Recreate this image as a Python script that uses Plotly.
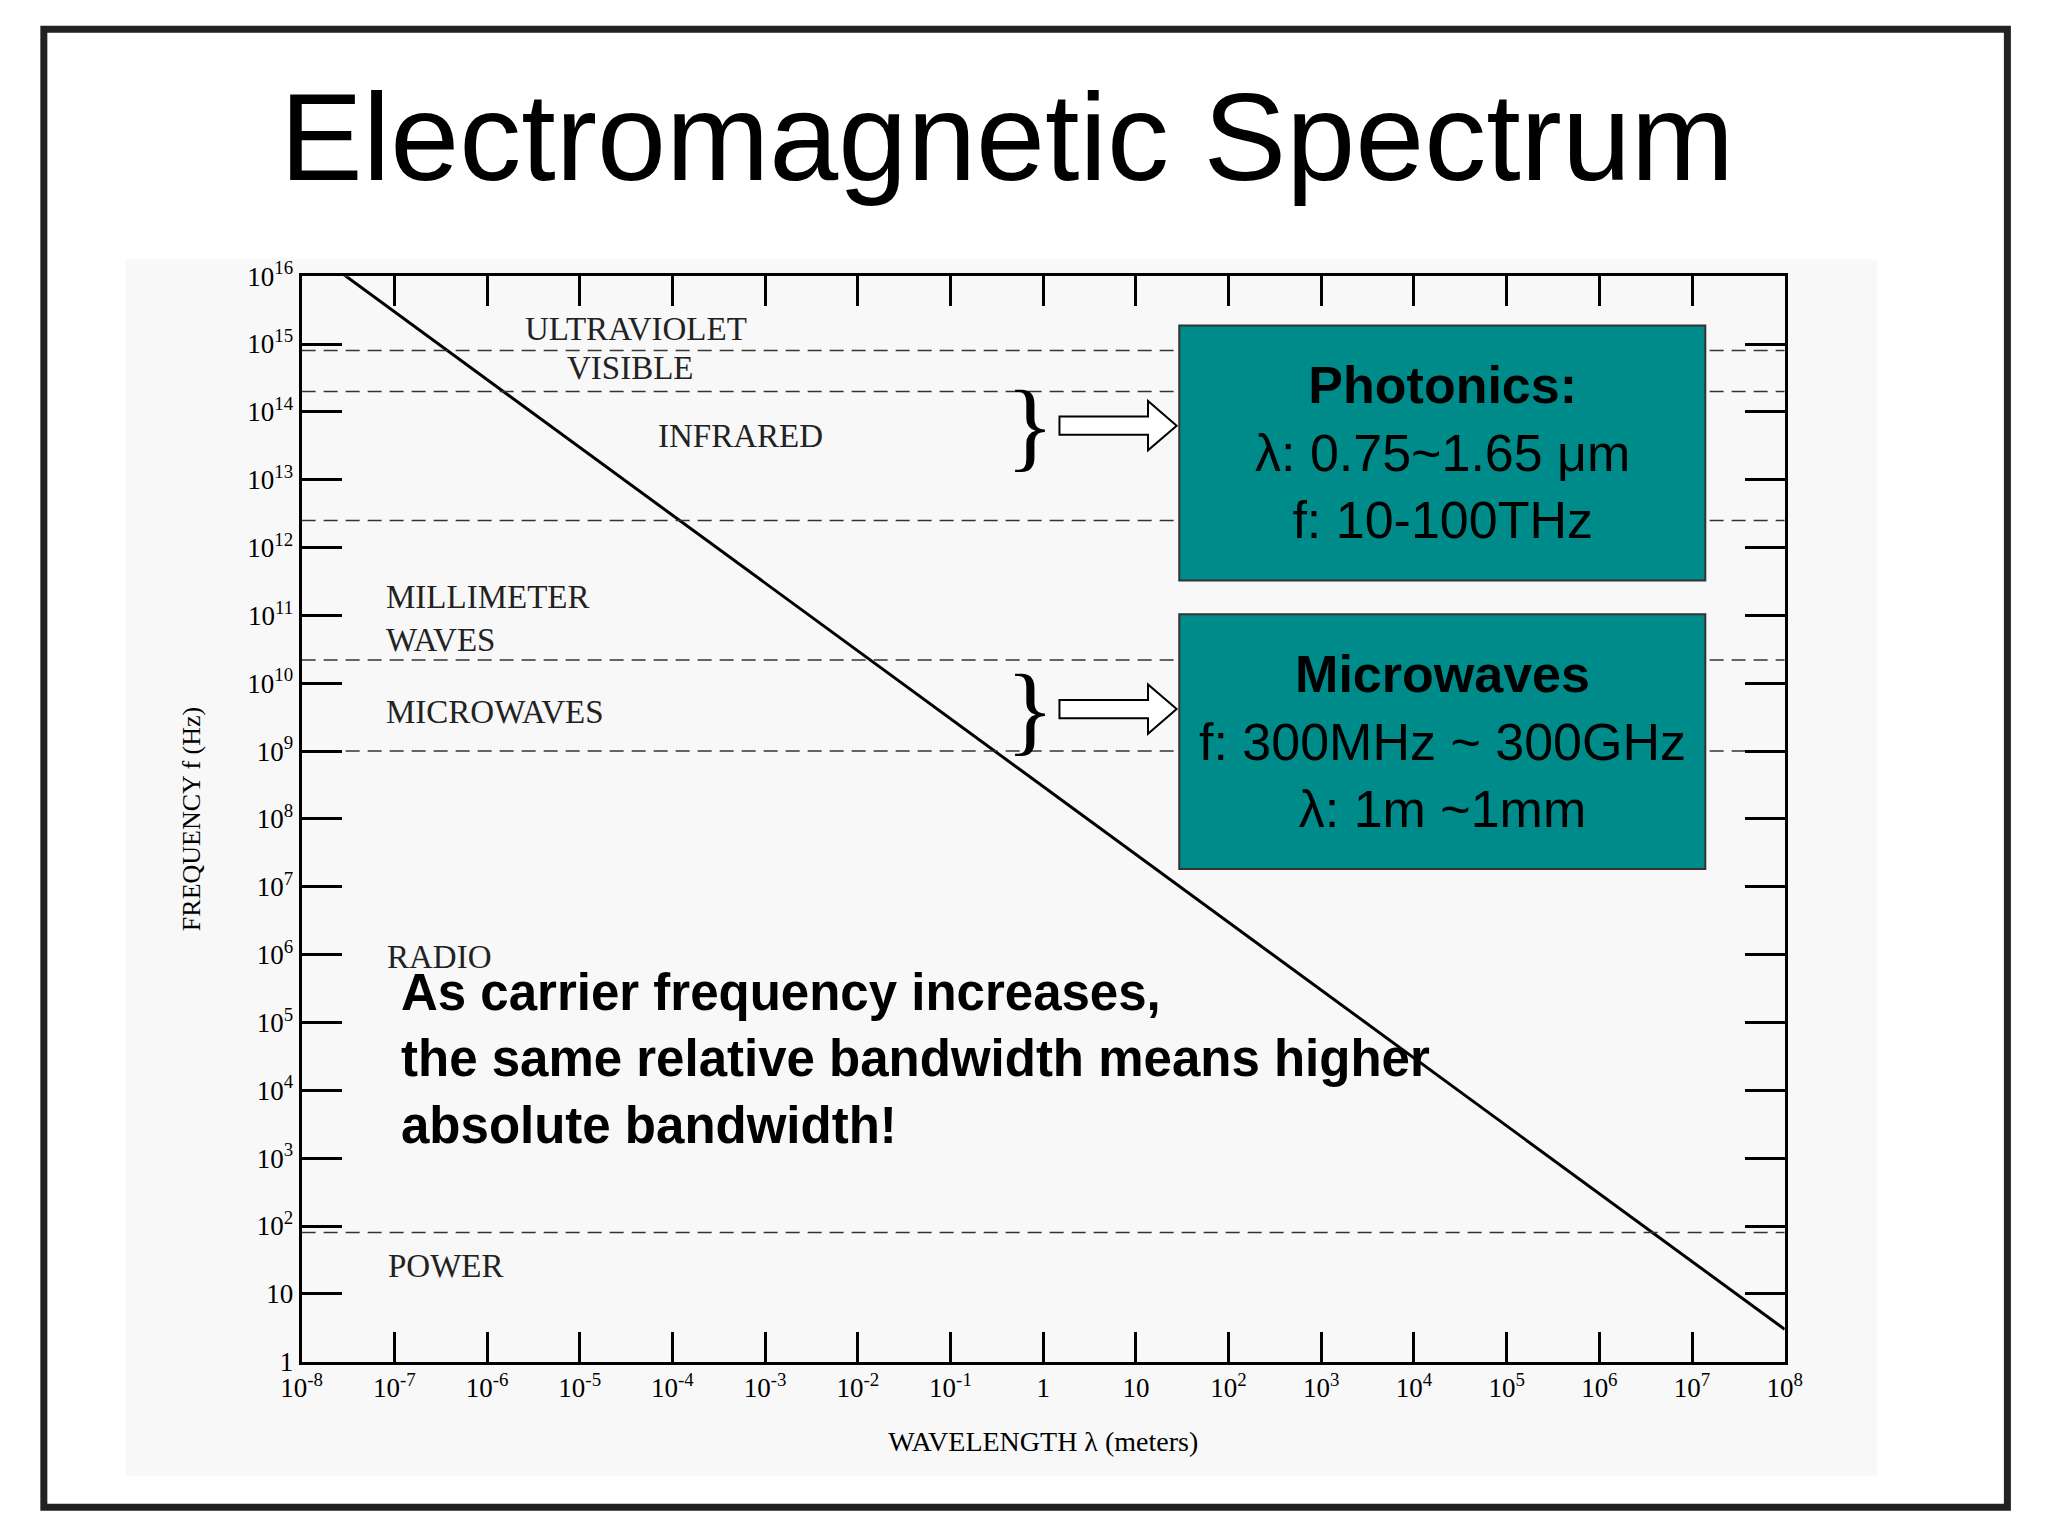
import plotly.graph_objects as go

# reference was read at 1568x1176, convert to paper fractions (with a small correction for page offset)
W0, H0 = 1568.0, 1176.0
def px(x): return ((x - 18.6) / 0.984) / W0
def py(y): return 1 - ((y - 18.35) / 0.9824) / H0

wavelength = [1e-8, 1e8]
frequency = [3e16, 3]
band_edges = [8e14, 2e14, 2.5e12, 2.2e10, 1e9, 80]
band_names = ["ULTRAVIOLET", "VISIBLE", "INFRARED", "MILLIMETER<br>WAVES", "MICROWAVES", "RADIO", "POWER"]
band_pos = [(398, 251), (430, 281), (500, 333), (291, 473), (291, 545), (292, 734), (293, 971)]
x_exp = list(range(-8, 9))
x_text = ["1" if e == 0 else ("10" if e == 1 else "10<sup>%d</sup>" % e) for e in x_exp]
y_exp = list(range(0, 17))
y_text = ["1" if e == 0 else ("10" if e == 1 else "10<sup>%d</sup>" % e) for e in y_exp]

serif = "Liberation Serif"
fig = go.Figure()
fig.add_trace(go.Scatter(x=wavelength, y=frequency, mode="lines",
                         line=dict(color="black", width=3), showlegend=False, hoverinfo="skip"))
for f in band_edges:
    fig.add_trace(go.Scatter(x=[1e-8, 1e8], y=[f, f], mode="lines",
                             line=dict(color="#333", width=1.5, dash="14px,8px"), showlegend=False, hoverinfo="skip"))

axis_common = dict(type="log", showgrid=False, zeroline=False, showline=True, linecolor="black",
                   linewidth=3, mirror="ticks", ticks="inside", tickcolor="black", tickwidth=3,
                   tickfont=dict(family=serif, size=27, color="black"))
fig.update_xaxes(range=[-8, 8], tickvals=[10 ** e for e in x_exp], ticktext=x_text, ticklen=30,
                 domain=[px(228), px(1367)], title=dict(text="WAVELENGTH λ (meters)",
                 font=dict(family=serif, size=28, color="black"), standoff=30), **axis_common)
fig.update_yaxes(range=[0, 16], tickvals=[10 ** e for e in y_exp], ticktext=y_text, ticklen=40,
                 domain=[py(1045), py(210)], title=dict(text="FREQUENCY f (Hz)",
                 font=dict(family=serif, size=26, color="black"), standoff=40), **axis_common)

shapes = [
    dict(type="rect", xref="paper", yref="paper", x0=px(93), x1=px(1438), y0=py(1133), y1=py(197),
         fillcolor="#f8f8f8", line=dict(width=0), layer="below"),
    dict(type="rect", xref="paper", yref="paper", x0=px(30), x1=px(1538), y0=py(1157), y1=py(20),
         line=dict(color="#222", width=7)),
]
annotations = [dict(text="Electromagnetic Spectrum", x=px(770), y=py(103), xref="paper", yref="paper",
                    xanchor="center", yanchor="middle", showarrow=False,
                    font=dict(family="Liberation Sans", size=124, color="black"))]
for name, (x, y) in zip(band_names, band_pos):
    annotations.append(dict(text=name, x=px(x), y=py(y), xref="paper", yref="paper", xanchor="left",
                            yanchor="middle", showarrow=False, align="left",
                            font=dict(family=serif, size=33, color="#222")))

boxes = [(248, 444, "<b>Photonics:</b><br>λ: 0.75~1.65 μm<br>f: 10-100THz", 325),
         (470, 666, "<b>Microwaves</b><br>f: 300MHz ~ 300GHz<br>λ: 1m ~1mm", 543)]
for y0, y1, txt, yc in boxes:
    shapes.append(dict(type="rect", xref="paper", yref="paper", x0=px(902), x1=px(1306),
                       y0=py(y1), y1=py(y0), fillcolor="#008b8b", line=dict(color="#333", width=2)))
    annotations.append(dict(text=txt, x=px(1104), y=py((y0 + y1) / 2), xref="paper", yref="paper",
                            xanchor="center", yanchor="middle", showarrow=False, align="center",
                            font=dict(family="Liberation Sans", size=52, color="black")))
    annotations.append(dict(text="}", x=px(787), y=py(yc), xref="paper", yref="paper", showarrow=False,
                            xanchor="center", yanchor="middle",
                            font=dict(family=serif, size=100, color="black")))
    a = [(810, yc - 7), (878, yc - 7), (878, yc - 19), (900, yc), (878, yc + 19), (878, yc + 7), (810, yc + 7)]
    path = "M " + " L ".join("%f,%f" % (px(x), py(y)) for x, y in a) + " Z"
    shapes.append(dict(type="path", xref="paper", yref="paper", path=path, fillcolor="white",
                       line=dict(color="black", width=2)))

annotations.append(dict(text="<b>As carrier frequency increases,<br>the same relative bandwidth means higher<br>absolute bandwidth!</b>",
                        x=px(303), y=py(812), xref="paper", yref="paper", xanchor="left", yanchor="middle",
                        showarrow=False, align="left",
                        font=dict(family="Liberation Sans", size=51, color="black")))

fig.update_layout(width=2048, height=1536, margin=dict(l=0, r=0, t=0, b=0),
                  paper_bgcolor="white", plot_bgcolor="rgba(0,0,0,0)",
                  shapes=shapes, annotations=annotations)
fig.write_html("out.html")
